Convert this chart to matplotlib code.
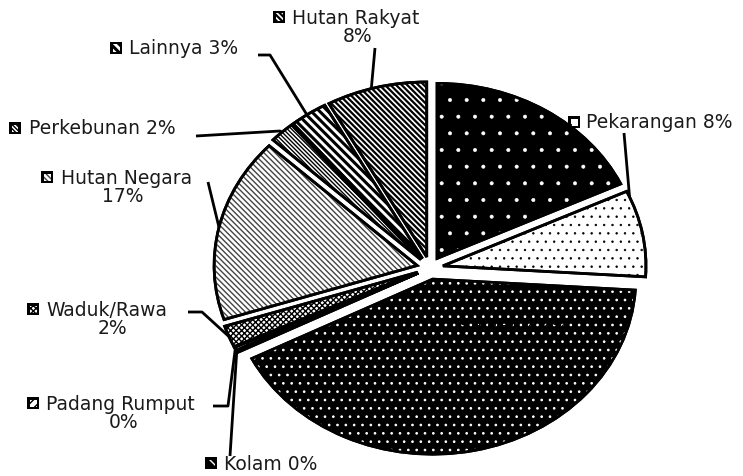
import numpy as np
import matplotlib
matplotlib.use("Agg")
import matplotlib.pyplot as plt
from matplotlib.patches import Wedge, Rectangle

plt.rcParams['font.family'] = ['DejaVu Sans']
plt.rcParams['hatch.linewidth'] = 1.0

# data (clockwise from 12 o'clock)
names = ['Tegalan', 'Pekarangan', 'Sawah', 'Kolam', 'Padang Rumput', 'Waduk/Rawa',
         'Hutan Negara', 'Perkebunan', 'Lainnya', 'Hutan Rakyat']
shares = [18.0, 8.0, 41.5, 0.2, 0.3, 2.0, 17.0, 2.0, 3.0, 8.0]
pct_labels = ['18%', '8%', '42%', '0%', '0%', '2%', '17%', '2%', '3%', '8%']

# style per slice: face, hatch, hatch colour, hatch line width
faces = ['black', 'white', 'black', 'black', 'white', 'white', 'white', 'white', 'white', 'white']
hatches = ['.', '..', '..', 'xx', '////', 'xxxxxx', '\\' * 6, '\\' * 8, '\\' * 4, '\\' * 6]
hcolors = ['white', 'black', 'white', 'white', 'black', 'black', '#444444', 'black', 'black', 'black']
hwidths = [0.4, 0.5, 0.7, 1.0, 1.0, 1.0, 1.0, 1.0, 2.2, 1.6]

# layout (pixels)
CX, CY, RX, RY = 430, 268, 203, 175
W, H = 743, 476


def P(x, y):
    return (x - CX) / RX, (CY - y) / RY


def hatch_lw(patch, lw):
    if hasattr(patch, 'set_hatch_linewidth'):
        patch.set_hatch_linewidth(lw)


fig = plt.figure(figsize=(W / 100, H / 100), dpi=100)
ax = fig.add_axes([0, 0, 1, 1])

wedges, _ = ax.pie(shares, startangle=90, counterclock=False,
                   explode=[0.065] * len(shares),
                   wedgeprops=dict(edgecolor='black', linewidth=2))

for w, fc, h, hc, hw in zip(wedges, faces, hatches, hcolors, hwidths):
    w.set_facecolor(fc)
    over = Wedge(w.center, w.r, w.theta1, w.theta2, facecolor='none',
                 edgecolor=hc, hatch=h, linewidth=0)
    hatch_lw(over, hw)
    ax.add_patch(over)
    ax.add_patch(Wedge(w.center, w.r, w.theta1, w.theta2, facecolor='none',
                       edgecolor='black', linewidth=2))


def key(i, x, y, s=12):
    x0, y0 = P(x - s / 2, y + s / 2)
    rw, rh = s / RX, s / RY
    ax.add_patch(Rectangle((x0, y0), rw, rh, facecolor='black', edgecolor='black', lw=0))
    b = 2.5
    inner = Rectangle((x0 + b / RX, y0 + b / RY), rw - 2 * b / RX, rh - 2 * b / RY,
                      facecolor=faces[i], edgecolor=hcolors[i], hatch=hatches[i], lw=0)
    hatch_lw(inner, hwidths[i])
    ax.add_patch(inner)


def edge_point(i, frac):
    w = wedges[i]
    ang = np.deg2rad(w.theta1 + (w.theta2 - w.theta1) * frac)
    return w.center[0] + w.r * np.cos(ang), w.center[1] + w.r * np.sin(ang)


fs = 13.5
tc = '#1a1a1a'
# index, key centre, first line (left x, y), second line (centre x, y) or None,
# leader points from label towards slice, where on the arc the leader ends
labels = [
    (9, (279, 17), (292, 18), (358, 37), [(375, 48)], 0.55),
    (8, (116, 48), (129, 49), None, [(258, 55), (270, 55)], 0.55),
    (7, (15, 128), (29, 129), None, [(196, 136), (280, 131)], 0.5),
    (6, (47, 177), (61, 178), (123, 196), [(208, 182)], 0.5),
    (5, (33, 309), (46, 310), (112, 328), [(188, 312), (202, 312)], 0.5),
    (4, (33, 403), (46, 405), (124, 423), [(213, 406), (228, 406)], 0.5),
    (3, (211, 463), (224, 464), None, [(230, 456)], 0.5),
    (1, (574, 122), (586, 123), None, [(624, 133)], 0.93),
]

for i, kp, l1, l2, pts, frac in labels:
    key(i, *kp)
    if l2 is None:
        ax.text(*P(*l1), f'{names[i]} {pct_labels[i]}', ha='left', va='center',
                fontsize=fs, color=tc)
    else:
        ax.text(*P(*l1), names[i], ha='left', va='center', fontsize=fs, color=tc)
        ax.text(*P(*l2), pct_labels[i], ha='center', va='center', fontsize=fs, color=tc)
    xs = [P(*p)[0] for p in pts]
    ys = [P(*p)[1] for p in pts]
    ex, ey = edge_point(i, frac)
    xs.append(ex)
    ys.append(ey)
    ax.plot(xs, ys, color='black', lw=2, solid_capstyle='butt')

# label that sits on the black slice (almost invisible, as in the original)
key(2, 446, 326)
ax.text(*P(459, 326), f'{names[2]} {pct_labels[2]}', ha='left', va='center',
        fontsize=fs, color='black')

ax.set_aspect('auto')
ax.set_xlim(P(0, 0)[0], P(W, 0)[0])
ax.set_ylim(P(0, H)[1], P(0, 0)[1])
ax.axis('off')

fig.savefig('out.png', dpi=100)
